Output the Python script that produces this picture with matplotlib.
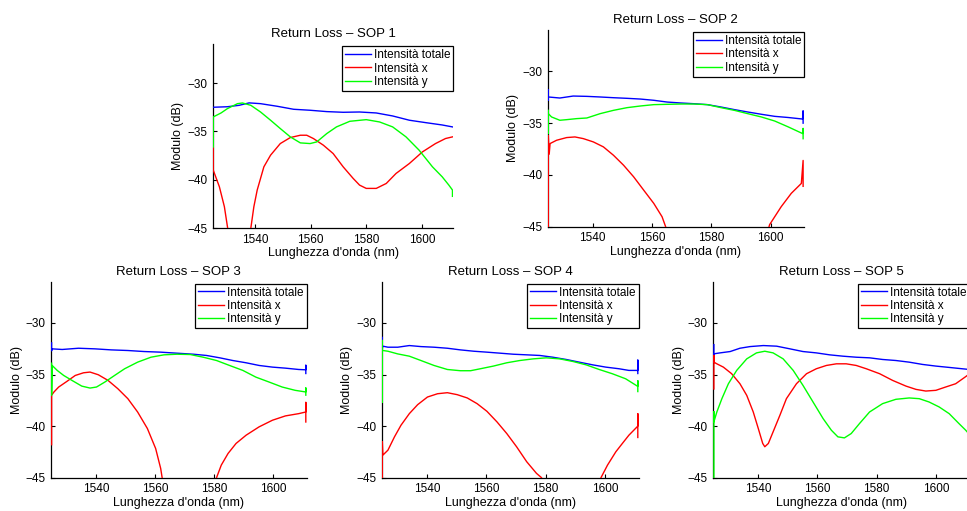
import matplotlib
matplotlib.use("Agg")
import matplotlib.pyplot as plt

plt.rcParams['font.family'] = ['Liberation Sans', 'DejaVu Sans']

# ---------------- data (wavelength nm, level dB) ----------------
sop1_tot_nm = [1525, 1530, 1534.3, 1537.9, 1542.0, 1548.0, 1553.9, 1559.8, 1565.8, 1571.7, 1577.6, 1583.6, 1589.5, 1595.5, 1601.4, 1607.3, 1611]
sop1_tot_db = [-32.5, -32.45, -32.3, -32.05, -32.13, -32.4, -32.71, -32.81, -32.95, -33.02, -32.99, -33.09, -33.4, -33.84, -34.09, -34.33, -34.53]
sop1_x_nm = [1525, 1525, 1527.2, 1529.0, 1530.1, 1530.7, 1533.5, 1537.9, 1538.5, 1539.6, 1540.8, 1543.2, 1545.6, 1549.1, 1552.7, 1556.3, 1558.6, 1561.0, 1564.6, 1568.1, 1571.7, 1575.3, 1577.6, 1580.0, 1583.6, 1587.2, 1590.7, 1595.5, 1600.2, 1604.9, 1608.5, 1611]
sop1_x_db = [-36.6, -39.0, -40.71, -42.77, -44.83, -46.0, -52.0, -46.0, -45.0, -42.77, -41.05, -38.65, -37.45, -36.25, -35.63, -35.39, -35.39, -35.73, -36.42, -37.28, -38.65, -39.85, -40.54, -40.88, -40.88, -40.37, -39.34, -38.31, -37.11, -36.25, -35.73, -35.56]
sop1_y_nm = [1525, 1525, 1527.8, 1530.1, 1533.7, 1535.5, 1538.5, 1542.0, 1545.6, 1549.1, 1552.7, 1556.3, 1559.8, 1562.2, 1565.8, 1569.3, 1574.1, 1580.0, 1584.8, 1589.5, 1594.3, 1599.0, 1603.8, 1607.3, 1609.7, 1611, 1611]
sop1_y_db = [-36.6, -33.5, -33.09, -32.64, -32.13, -32.06, -32.3, -32.99, -33.84, -34.7, -35.56, -36.18, -36.25, -36.08, -35.22, -34.53, -33.95, -33.78, -34.02, -34.53, -35.56, -36.93, -38.65, -39.68, -40.54, -41.05, -41.7]

sop2_tot_nm = [1525, 1525, 1525, 1528.9, 1533.4, 1538.0, 1542.5, 1547.0, 1551.6, 1556.1, 1560.6, 1565.1, 1569.7, 1574.2, 1578.7, 1583.3, 1587.8, 1592.3, 1596.9, 1601.4, 1605.9, 1610.8, 1611, 1611]
sop2_tot_db = [-31.77, -32.8, -32.47, -32.57, -32.38, -32.41, -32.47, -32.54, -32.6, -32.67, -32.79, -32.96, -33.05, -33.12, -33.21, -33.44, -33.69, -33.92, -34.14, -34.34, -34.45, -34.6, -33.8, -35.0]
sop2_x_nm = [1525, 1525, 1525.3, 1525.6, 1527.8, 1531.2, 1534.0, 1536.8, 1540.2, 1543.6, 1547.0, 1550.4, 1553.8, 1557.2, 1560.6, 1563.4, 1564.6, 1566, 1582, 1598, 1599.7, 1603.6, 1607.0, 1610.4, 1611, 1611]
sop2_x_db = [-46, -36.2, -38.0, -36.97, -36.65, -36.39, -36.33, -36.49, -36.81, -37.29, -38.1, -39.06, -40.18, -41.47, -42.75, -44.04, -45.0, -46.5, -55, -46.5, -44.8, -43.07, -41.78, -40.82, -38.6, -41.1]
sop2_y_nm = [1525, 1525, 1525, 1526.1, 1528.9, 1531.2, 1534.6, 1538.0, 1542.5, 1547.0, 1551.6, 1556.1, 1560.6, 1565.1, 1569.7, 1574.2, 1578.7, 1583.3, 1587.8, 1592.3, 1596.9, 1601.4, 1605.9, 1610.8, 1611, 1611]
sop2_y_db = [-33.76, -36.0, -34.08, -34.4, -34.72, -34.66, -34.56, -34.5, -34.08, -33.76, -33.5, -33.34, -33.21, -33.18, -33.15, -33.15, -33.21, -33.5, -33.76, -34.08, -34.4, -34.79, -35.35, -36.0, -35.5, -36.5]

sop3_tot_nm = [1525, 1525, 1525.2, 1528.6, 1534.1, 1539.7, 1545.2, 1550.8, 1556.3, 1561.9, 1567.4, 1573.0, 1577.4, 1581.9, 1586.3, 1590.8, 1595.2, 1599.7, 1604.1, 1608.6, 1611, 1611, 1611]
sop3_tot_db = [-31.93, -32.7, -32.51, -32.57, -32.45, -32.51, -32.61, -32.67, -32.77, -32.83, -32.93, -33.03, -33.15, -33.38, -33.64, -33.86, -34.12, -34.28, -34.38, -34.51, -34.54, -34.1, -34.9]
sop3_x_nm = [1525, 1525, 1525.8, 1527.4, 1530.2, 1533.0, 1535.8, 1538.0, 1540.8, 1544.1, 1547.4, 1550.8, 1554.1, 1557.4, 1560.2, 1561.9, 1562.4, 1564, 1571, 1578, 1580.8, 1582.4, 1584.7, 1587.4, 1590.8, 1595.2, 1599.7, 1604.1, 1608.6, 1611, 1611, 1611]
sop3_x_db = [-41.8, -37.0, -36.69, -36.21, -35.66, -35.09, -34.83, -34.76, -35.02, -35.57, -36.37, -37.34, -38.63, -40.23, -42.17, -44.1, -45.0, -47, -55, -47, -45.0, -43.78, -42.65, -41.68, -40.88, -40.07, -39.43, -39.01, -38.79, -38.63, -37.7, -39.6]
sop3_y_nm = [1525, 1525, 1525.2, 1526.9, 1529.1, 1531.9, 1535.2, 1538.0, 1540.2, 1543.0, 1546.3, 1549.7, 1554.1, 1558.6, 1563.0, 1567.4, 1571.9, 1576.3, 1580.8, 1585.2, 1589.7, 1594.1, 1598.6, 1603.0, 1607.4, 1611, 1611, 1611]
sop3_y_db = [-33.9, -37.0, -34.12, -34.6, -35.09, -35.57, -36.12, -36.31, -36.21, -35.73, -35.09, -34.44, -33.8, -33.32, -33.09, -33.03, -33.06, -33.32, -33.64, -34.12, -34.6, -35.25, -35.73, -36.21, -36.53, -36.69, -36.3, -37.0]

sop4_tot_nm = [1525, 1525, 1525.2, 1526.9, 1530.2, 1534.1, 1538.0, 1542.4, 1546.9, 1551.3, 1555.8, 1560.2, 1564.7, 1569.1, 1573.6, 1578.0, 1582.4, 1586.9, 1591.3, 1595.8, 1600.2, 1604.7, 1608.0, 1611, 1611, 1611]
sop4_tot_db = [-31.4, -32.5, -32.25, -32.35, -32.35, -32.19, -32.29, -32.35, -32.45, -32.61, -32.74, -32.83, -32.93, -33.03, -33.09, -33.15, -33.32, -33.54, -33.8, -34.06, -34.28, -34.44, -34.6, -34.6, -33.6, -34.9]
sop4_x_nm = [1525, 1525, 1525.2, 1526.9, 1529.1, 1531.3, 1534.1, 1536.9, 1540.2, 1543.6, 1546.9, 1550.2, 1553.6, 1556.9, 1560.2, 1563.6, 1566.9, 1570.2, 1573.6, 1576.9, 1578.6, 1580, 1589, 1598, 1598.6, 1600.8, 1603.6, 1605.8, 1608.0, 1611, 1611, 1611]
sop4_x_db = [-45.5, -41.5, -42.81, -42.33, -41.04, -39.91, -38.79, -37.92, -37.18, -36.86, -36.76, -36.95, -37.27, -37.82, -38.56, -39.59, -40.72, -42.0, -43.45, -44.58, -45.0, -46.5, -55, -46.5, -45.0, -43.78, -42.49, -41.68, -40.88, -40.0, -38.8, -41.1]
sop4_y_nm = [1525, 1525, 1525, 1525.2, 1526.9, 1530.2, 1534.1, 1538.0, 1542.4, 1546.9, 1551.3, 1554.7, 1558.0, 1562.4, 1566.9, 1571.3, 1575.8, 1580.2, 1584.7, 1589.1, 1593.6, 1598.0, 1602.4, 1606.9, 1611, 1611, 1611]
sop4_y_db = [-31.7, -37.7, -32.67, -32.67, -32.74, -33.0, -33.22, -33.64, -34.12, -34.51, -34.63, -34.63, -34.44, -34.18, -33.86, -33.64, -33.48, -33.38, -33.48, -33.73, -34.06, -34.51, -34.92, -35.41, -36.15, -35.6, -36.65]

sop5_tot_nm = [1525, 1525, 1525, 1527.1, 1530.5, 1533.8, 1537.2, 1541.7, 1546.2, 1550.7, 1555.1, 1559.6, 1564.1, 1568.6, 1573.1, 1577.6, 1582.0, 1586.5, 1591.0, 1595.5, 1600.0, 1604.5, 1608.9, 1611]
sop5_tot_db = [-32.1, -33.2, -32.99, -32.9, -32.77, -32.45, -32.29, -32.19, -32.25, -32.51, -32.77, -32.9, -33.09, -33.22, -33.32, -33.38, -33.54, -33.64, -33.8, -34.02, -34.18, -34.31, -34.44, -34.5]
sop5_x_nm = [1525, 1525, 1525, 1526.0, 1528.2, 1531.0, 1533.8, 1536.1, 1538.3, 1540.0, 1541.5, 1542.2, 1543.4, 1545.0, 1547.3, 1549.5, 1552.9, 1556.3, 1559.6, 1563.0, 1566.4, 1569.7, 1573.1, 1576.5, 1581.0, 1585.4, 1589.9, 1593.3, 1596.6, 1600.0, 1603.3, 1606.7, 1610.1, 1611]
sop5_x_db = [-36.4, -33.15, -33.8, -33.96, -34.28, -34.92, -35.89, -37.02, -38.63, -40.23, -41.68, -42.0, -41.68, -40.56, -38.95, -37.34, -35.89, -34.92, -34.44, -34.12, -33.96, -33.96, -34.12, -34.44, -34.92, -35.57, -36.12, -36.44, -36.6, -36.53, -36.21, -35.89, -35.2, -35.0]
sop5_y_nm = [1525, 1525, 1525, 1526.0, 1527.7, 1529.9, 1532.7, 1536.1, 1539.4, 1542.2, 1545.0, 1548.4, 1551.8, 1555.1, 1558.5, 1561.9, 1564.7, 1566.9, 1569.1, 1571.4, 1574.2, 1577.6, 1582.0, 1586.5, 1591.0, 1594.4, 1597.7, 1601.1, 1604.5, 1607.8, 1610.1, 1611]
sop5_y_db = [-45.5, -38.6, -39.59, -38.63, -37.34, -35.89, -34.6, -33.48, -32.9, -32.74, -32.9, -33.48, -34.6, -36.05, -37.66, -39.27, -40.4, -41.04, -41.14, -40.72, -39.75, -38.63, -37.82, -37.4, -37.27, -37.34, -37.66, -38.14, -38.79, -39.75, -40.4, -40.7]

titles = ["Return Loss \u2013 SOP 1", "Return Loss \u2013 SOP 2", "Return Loss \u2013 SOP 3",
          "Return Loss \u2013 SOP 4", "Return Loss \u2013 SOP 5"]
legend_labels = ["Intensit\u00e0 totale", "Intensit\u00e0 x", "Intensit\u00e0 y"]
x_ticks = [1540, 1560, 1580, 1600]
y_ticks = [-30, -35, -40, -45]

series = [
    (sop1_tot_nm, sop1_tot_db, sop1_x_nm, sop1_x_db, sop1_y_nm, sop1_y_db),
    (sop2_tot_nm, sop2_tot_db, sop2_x_nm, sop2_x_db, sop2_y_nm, sop2_y_db),
    (sop3_tot_nm, sop3_tot_db, sop3_x_nm, sop3_x_db, sop3_y_nm, sop3_y_db),
    (sop4_tot_nm, sop4_tot_db, sop4_x_nm, sop4_x_db, sop4_y_nm, sop4_y_db),
    (sop5_tot_nm, sop5_tot_db, sop5_x_nm, sop5_x_db, sop5_y_nm, sop5_y_db),
]

# ---------------- layout ----------------
W, H = 967, 511
fig = plt.figure(figsize=(W / 100, H / 100), dpi=100)

# (left, right, top, bottom) in pixels
boxes = [
    (212.7, 453.3, 44.3, 228.3),
    (547.7, 804.0, 30.0, 226.7),
    (51.0, 306.7, 281.7, 477.7),
    (381.7, 638.7, 281.7, 477.7),
    (713.3, 969.3, 281.7, 477.7),
]

FS = 8.5
for (l, r, t, b), title, (tn, td, xn, xd, yn, yd) in zip(boxes, titles, series):
    ax = fig.add_axes([l / W, 1 - b / H, (r - l) / W, (b - t) / H])
    ax.plot(tn, td, color=(0, 0, 1), lw=1.0, label=legend_labels[0], zorder=3)
    ax.plot(xn, xd, color=(1, 0, 0), lw=1.0, label=legend_labels[1], zorder=3)
    ax.plot(yn, yd, color=(0, 1, 0), lw=1.0, label=legend_labels[2], zorder=3)
    ax.set_xlim(1524.8, 1611.3)
    ax.set_ylim(-45, -26)
    ax.set_xticks(x_ticks)
    ax.set_yticks(y_ticks)
    for s in ("top", "right"):
        ax.spines[s].set_visible(False)
    for s in ("left", "bottom"):
        ax.spines[s].set_linewidth(0.9)
    ax.tick_params(direction="in", length=3, width=0.8, labelsize=FS, pad=4)
    ax.set_xlabel("Lunghezza d'onda (nm)", fontsize=9, labelpad=1)
    ax.set_ylabel("Modulo (dB)", fontsize=9, labelpad=2)
    ax.set_title(title, fontsize=9.5, pad=5)
    leg = ax.legend(loc="upper right", bbox_to_anchor=(1.0, 0.99), fontsize=FS,
                    frameon=True, fancybox=False, framealpha=1, edgecolor="black",
                    borderaxespad=0, borderpad=0.25, labelspacing=0.12,
                    handlelength=2.2, handletextpad=0.25)
    leg.set_zorder(5)
    leg.get_frame().set_linewidth(0.9)

fig.savefig("out.png", dpi=100)
